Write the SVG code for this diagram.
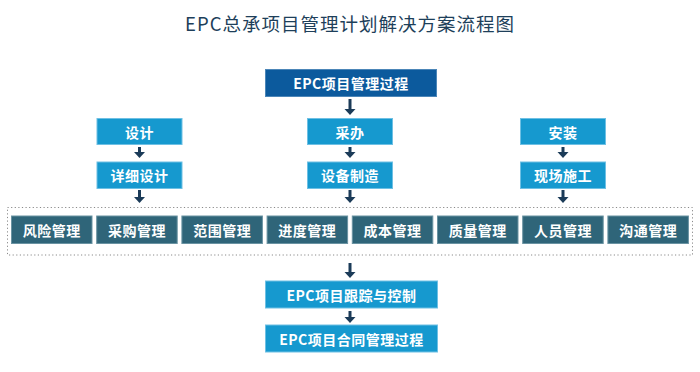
<svg xmlns="http://www.w3.org/2000/svg" width="700" height="372" viewBox="0 0 700 372">
<style>
.t{font-family:"Noto Sans CJK SC","Noto Sans",sans-serif;fill:#fff;font-weight:bold;font-size:14px;text-anchor:middle;dominant-baseline:central;letter-spacing:0.5px}
.main{fill:#0c5a9d;stroke:#4c86b8;stroke-width:1}
.light{fill:#1699cf;stroke:#6ec0e4;stroke-width:1}
.mg{fill:#2f6579;stroke:#6a93a2;stroke-width:1}
.ar{stroke:#1b3b58;stroke-width:3;fill:none;marker-end:url(#ah)}
</style>
<defs>
<marker id="ah" markerUnits="userSpaceOnUse" markerWidth="11" markerHeight="6" refX="5.5" refY="0" viewBox="0 0 11 6" orient="0" overflow="visible">
<path d="M0,0 L11,0 L5.5,6 Z" fill="#1b3b58"/>
</marker>
</defs>
<rect width="700" height="372" fill="#fff"/>
<text x="350" y="23" style="font-family:'Noto Sans CJK SC','Noto Sans',sans-serif;font-size:18.5px;fill:#1e3f5a;text-anchor:middle;dominant-baseline:central;letter-spacing:1px">EPC总承项目管理计划解决方案流程图</text>

<g id="connectors">
<line class="ar" x1="350" y1="99" x2="350" y2="109"/>
<line class="ar" x1="139.5" y1="147" x2="139.5" y2="152"/>
<line class="ar" x1="350" y1="147" x2="350" y2="152"/>
<line class="ar" x1="563" y1="147" x2="563" y2="152"/>
<line class="ar" x1="139.5" y1="190" x2="139.5" y2="197"/>
<line class="ar" x1="350" y1="190" x2="350" y2="197"/>
<line class="ar" x1="563" y1="190" x2="563" y2="197"/>
<line class="ar" x1="350" y1="263" x2="350" y2="272"/>
<line class="ar" x1="350" y1="311" x2="350" y2="317"/>
</g>

<g id="n-epc-process"><rect class="main" x="265.5" y="69.5" width="171" height="27"/><text class="t" x="351" y="83">EPC项目管理过程</text></g>

<g id="n-design"><rect class="light" x="97" y="118.5" width="85" height="26"/><text class="t" x="139.5" y="131.5">设计</text></g>
<g id="n-procure"><rect class="light" x="307.5" y="118.5" width="85" height="26"/><text class="t" x="350" y="131.5">采办</text></g>
<g id="n-install"><rect class="light" x="520.5" y="118.5" width="85" height="26"/><text class="t" x="563" y="131.5">安装</text></g>

<g id="n-detail"><rect class="light" x="97" y="162" width="85" height="26.5"/><text class="t" x="139.5" y="175.3">详细设计</text></g>
<g id="n-manufacture"><rect class="light" x="307.5" y="162" width="85" height="26.5"/><text class="t" x="350" y="175.3">设备制造</text></g>
<g id="n-site"><rect class="light" x="520.5" y="162" width="85" height="26.5"/><text class="t" x="563" y="175.3">现场施工</text></g>

<g id="n-group"><rect x="7.5" y="207.5" width="685" height="47.5" fill="none" stroke="#8a8a8a" stroke-width="1" stroke-dasharray="1.2 2.4"/></g>

<g id="n-risk"><rect class="mg" x="11.5" y="216" width="80.5" height="27.5"/><text class="t" x="51.75" y="229.75">风险管理</text></g>
<g id="n-purchase"><rect class="mg" x="96.7" y="216" width="80.5" height="27.5"/><text class="t" x="136.95" y="229.75">采购管理</text></g>
<g id="n-scope"><rect class="mg" x="181.9" y="216" width="80.5" height="27.5"/><text class="t" x="222.15" y="229.75">范围管理</text></g>
<g id="n-schedule"><rect class="mg" x="267.1" y="216" width="80.5" height="27.5"/><text class="t" x="307.35" y="229.75">进度管理</text></g>
<g id="n-cost"><rect class="mg" x="352.3" y="216" width="80.5" height="27.5"/><text class="t" x="392.55" y="229.75">成本管理</text></g>
<g id="n-quality"><rect class="mg" x="437.5" y="216" width="80.5" height="27.5"/><text class="t" x="477.75" y="229.75">质量管理</text></g>
<g id="n-people"><rect class="mg" x="522.7" y="216" width="80.5" height="27.5"/><text class="t" x="562.95" y="229.75">人员管理</text></g>
<g id="n-comm"><rect class="mg" x="607.9" y="216" width="80.5" height="27.5"/><text class="t" x="648.15" y="229.75">沟通管理</text></g>

<g id="n-track"><rect class="light" x="265.5" y="281" width="172" height="27"/><text class="t" x="351.5" y="294.5">EPC项目跟踪与控制</text></g>
<g id="n-contract"><rect class="light" x="265.5" y="325" width="172" height="27"/><text class="t" x="351.5" y="338.5">EPC项目合同管理过程</text></g>
</svg>
